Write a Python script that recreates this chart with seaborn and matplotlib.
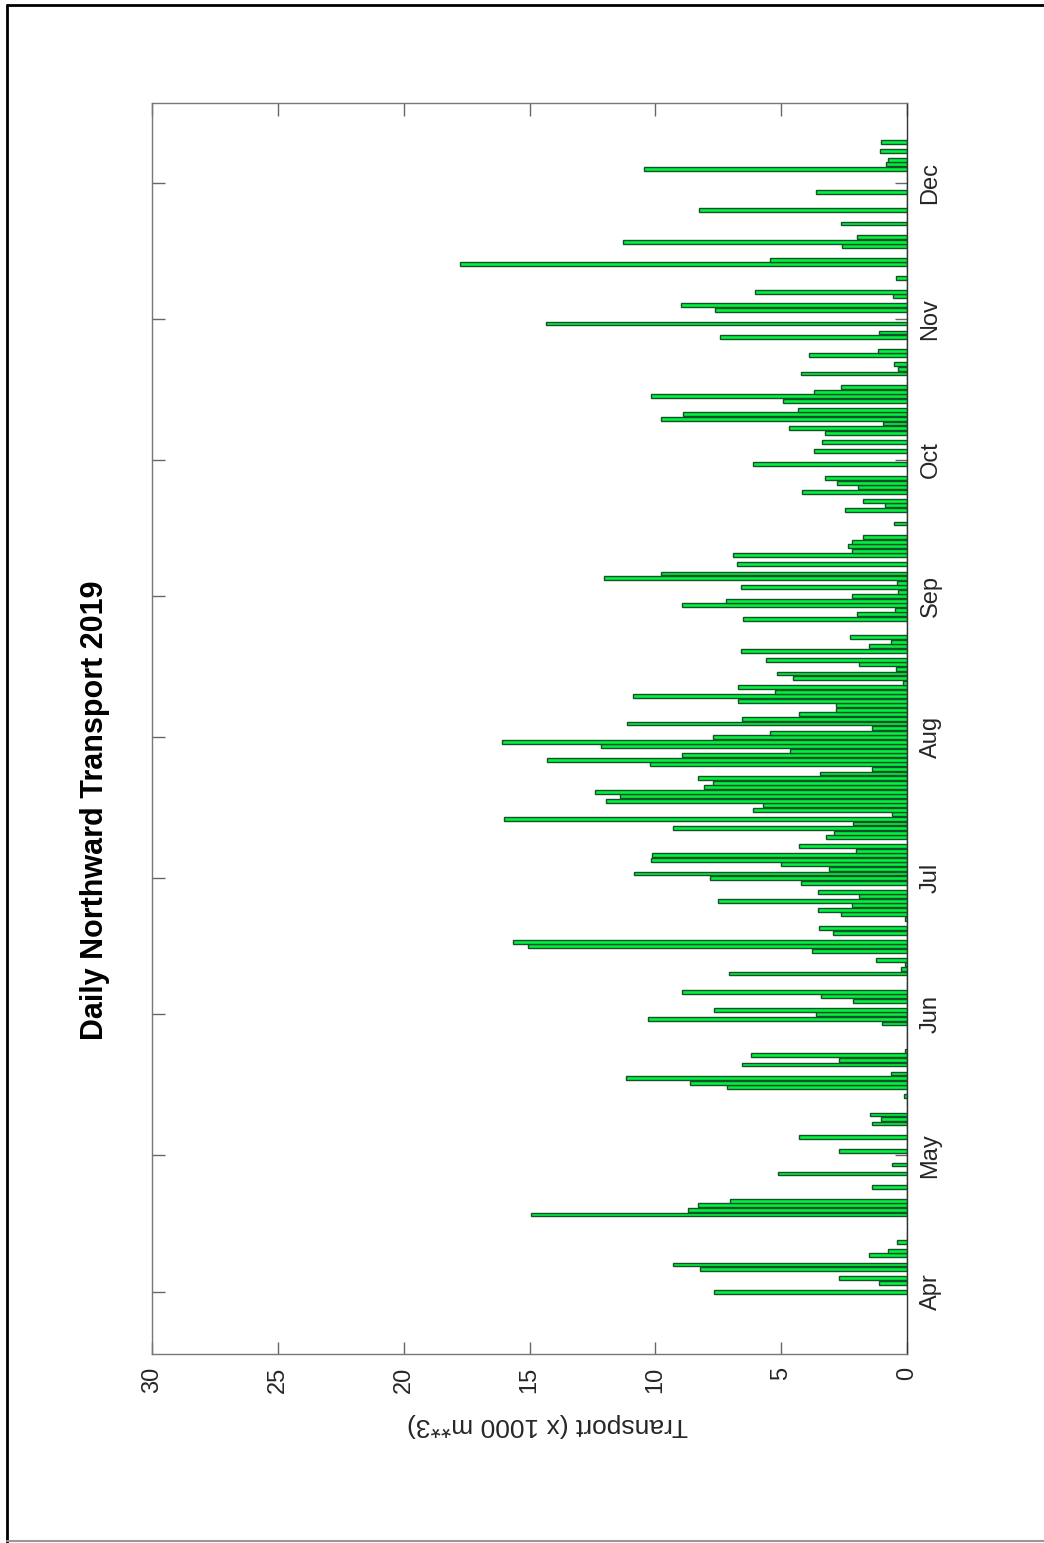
import numpy as np
import pandas as pd
import matplotlib
matplotlib.use('Agg')
import matplotlib.pyplot as plt
from matplotlib.lines import Line2D
import seaborn as sns

# daily northward transport (x 1000 m**3), 1 Apr 2019 .. 10 Dec 2019
transport = [
    7.68, 0, 1.10, 2.69, 0, 8.23, 9.31, 0, 1.52, 0.77,            # Apr 1-10
    0, 0.41, 0, 0, 0, 0, 0, 14.94, 8.69, 8.29,                    # Apr 11-20
    7.03, 0, 0, 1.40, 0, 0, 5.11, 0, 0.61, 0,                     # Apr 21-30
    0, 2.69, 0, 0, 4.28, 0, 0, 1.40, 1.05, 1.47,                  # May 1-10
    0, 0, 0, 0.12, 0, 7.17, 8.62, 11.18, 0.65, 0,                 # May 11-20
    6.57, 2.69, 6.19, 0.08, 0, 0, 0, 0, 0, 0.99,                  # May 21-30
    10.28,                                                         # May 31
    3.63, 7.67, 0, 2.16, 3.43, 8.94, 0, 0, 0, 7.09,               # Jun 1-10
    0.24, 0.08, 1.25, 0, 3.79, 15.05, 15.64, 0, 2.95, 3.48,       # Jun 11-20
    0, 0.07, 2.62, 3.54, 2.20, 7.50, 1.89, 3.52, 0, 4.23,         # Jun 21-30
    7.83, 10.83, 3.09, 5.01, 10.17, 10.12, 2.03, 4.28, 0, 3.22,   # Jul 1-10
    2.89, 9.31, 2.16, 16.01, 0.61, 6.13, 5.71, 11.97, 11.40, 12.40,  # Jul 11-20
    8.05, 7.70, 8.29, 3.46, 1.40, 10.21, 14.32, 8.93, 4.65, 12.17,   # Jul 21-30
    16.11,                                                         # Jul 31
    7.70, 5.44, 1.40, 11.13, 6.54, 4.28, 2.83, 2.83, 6.70, 10.89, # Aug 1-10
    5.23, 6.70, 0.17, 4.52, 5.15, 0.45, 1.89, 5.60, 0, 6.61,      # Aug 11-20
    1.51, 0.65, 2.26, 0, 0, 0, 6.50, 1.97, 0.46, 8.93,            # Aug 21-30
    7.19,                                                          # Aug 31
    2.20, 0.34, 6.61, 0.38, 12.03, 9.79, 0, 6.77, 0, 6.93,        # Sep 1-10
    2.20, 2.36, 2.20, 1.76, 0, 0, 0.50, 0, 0, 2.46,               # Sep 11-20
    0.87, 1.76, 0, 4.17, 1.93, 2.79, 3.26, 0, 0, 6.13,            # Sep 21-30
    0, 0, 3.68, 0, 3.39, 0, 3.26, 4.70, 0.94, 9.79,               # Oct 1-10
    8.89, 4.32, 0, 4.91, 10.17, 3.68, 2.62, 0, 0, 4.23,           # Oct 11-20
    0.34, 0.50, 0, 3.89, 1.14, 0, 0, 7.42, 1.10, 0,               # Oct 21-30
    14.36,                                                         # Oct 31
    0, 0, 7.62, 8.99, 0, 0.56, 6.03, 0, 0, 0.45,                  # Nov 1-10
    0, 0, 17.76, 5.44, 0, 0, 2.57, 11.27, 1.97, 0,                # Nov 11-20
    0, 2.62, 0, 0, 8.25, 0, 0, 0, 3.63, 0,                        # Nov 21-30
    0, 0, 0, 10.44, 0.83, 0.77, 0, 1.09, 0, 1.03,                 # Dec 1-10
]
start_date = '2019-04-01'
month_labels = ['Apr', 'May', 'Jun', 'Jul', 'Aug', 'Sep', 'Oct', 'Nov', 'Dec']
transport_ticks = [0, 5, 10, 15, 20, 25, 30]

dates = pd.date_range(start_date, periods=len(transport), freq='D')
df = pd.DataFrame({'date': dates, 'transport': transport})
df['day'] = (df['date'] - dates[0]).dt.days
month_pos = [(pd.Timestamp(f'2019-{m:02d}-01') - dates[0]).days for m in range(4, 13)]

sns.set_style('white')
plt.rcParams['font.family'] = ['Liberation Sans Narrow', 'Liberation Sans', 'DejaVu Sans']

fig = plt.figure(figsize=(10.44, 15.43), dpi=100)
ax = fig.add_axes([152 / 1044, 1 - 1354 / 1543, 755 / 1044, 1251 / 1543])

sns.barplot(data=df, x='transport', y='day', orient='h', native_scale=True,
            color='#00f23c', edgecolor='#17502a', linewidth=1.0, width=0.85,
            saturation=1, ax=ax)

# page is turned: values run right-to-left, days bottom-to-top
ax.set_xlim(30, 0)
ax.set_ylim(-13.7, 261.5)
ax.set_xticks(transport_ticks)
ax.set_xticklabels([str(t) for t in transport_ticks], rotation=90, va='top', ha='center')
ax.set_yticks(month_pos)
ax.set_yticklabels(month_labels, rotation=90, va='center', ha='left')
ax.tick_params(axis='both', direction='in', length=9, width=1, color='#666666',
               labelsize=17, labelcolor='#262626', pad=9)
ax.tick_params(axis='x', top=True, bottom=True)
ax.tick_params(axis='y', left=True, right=True, labelleft=False, labelright=True)
ax.set_xlabel('')
ax.set_ylabel('')
for side in ['top', 'bottom', 'left', 'right']:
    ax.spines[side].set_color('#777777')
    ax.spines[side].set_linewidth(1)
ax.spines['right'].set_color('#333333')

fig.text(95 / 1044, 1 - 810 / 1543, 'Daily Northward Transport 2019', rotation=90,
         ha='center', va='center', fontsize=22, fontweight='bold', color='black')
fig.text(548 / 1044, 1 - 1425 / 1543, 'Transport (x 1000 m**3)', rotation=180,
         ha='center', va='center', fontsize=19, color='#262626')

# page frame
fig.add_artist(Line2D([7 / 1044, 7 / 1044], [0, 1 - 5 / 1543], color='black', lw=2))
fig.add_artist(Line2D([7 / 1044, 1], [1 - 5 / 1543, 1 - 5 / 1543], color='black', lw=2))
fig.add_artist(Line2D([7 / 1044, 1], [1 - 1541 / 1543, 1 - 1541 / 1543], color='#999999', lw=1.5))

fig.savefig('out.png', dpi=100)
